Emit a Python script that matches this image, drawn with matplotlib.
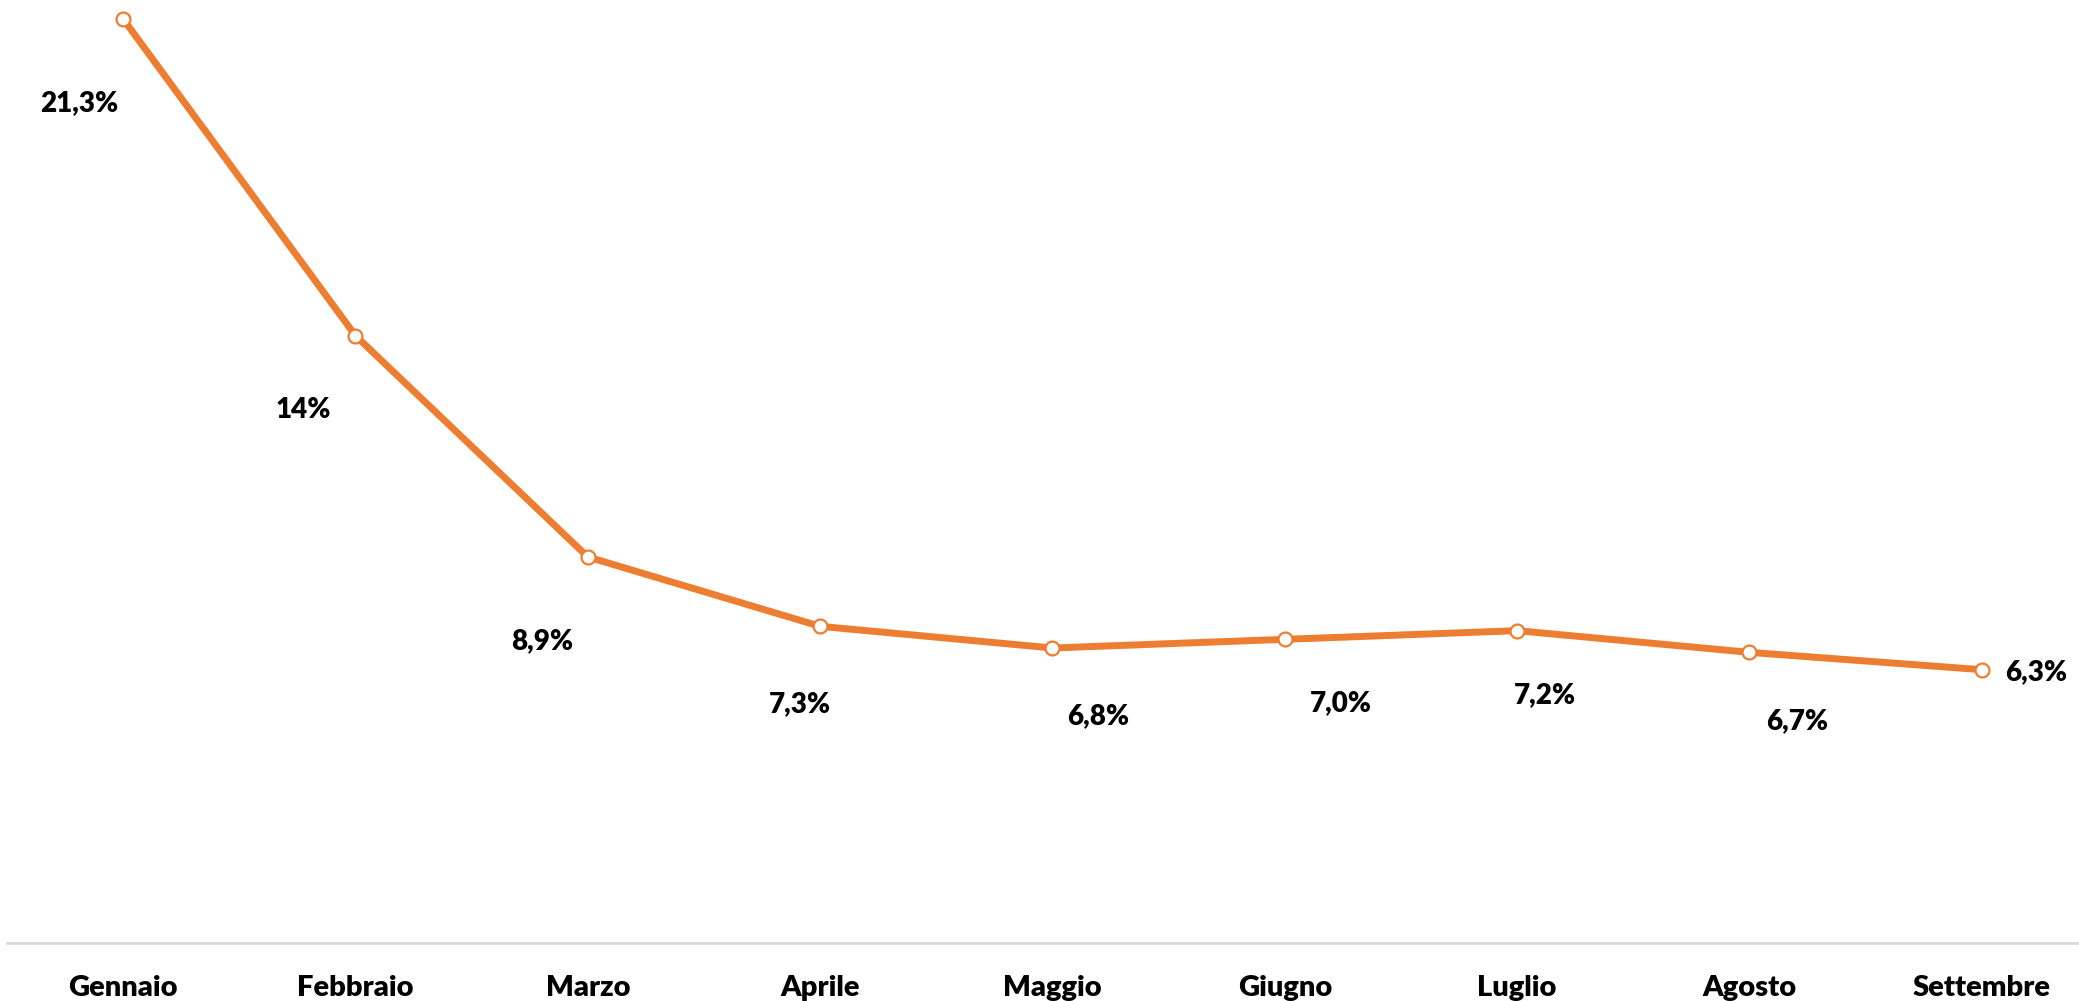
import matplotlib

matplotlib.use("Agg")
import matplotlib.pyplot as plt

MONTHS = ["Gennaio", "Febbraio", "Marzo", "Aprile", "Maggio", "Giugno",
          "Luglio", "Agosto", "Settembre"]
VALUES = [21.3, 14.0, 8.9, 7.3, 6.8, 7.0, 7.2, 6.7, 6.3]
LABELS = ["21,3%", "14%", "8,9%", "7,3%", "6,8%", "7,0%", "7,2%", "6,7%", "6,3%"]

ORANGE = "#ED7D31"
# label offsets in pixels from each point (x right, y up)
OFFSETS = [(-44, -84), (-52, -74), (-46, -84), (-20, -78), (46, -68),
           (56, -64), (28, -64), (48, -69), (54, -2)]

plt.rcParams["font.family"] = ["Lato", "DejaVu Sans"]

W, H = 2079, 1001
fig = plt.figure(figsize=(W / 100, H / 100), dpi=100)
ax = fig.add_axes([7 / W, (H - 943) / H, (2077 - 7) / W, (943 - 19) / H])

x = list(range(len(MONTHS)))
ax.plot(x, VALUES, color=ORANGE, linewidth=5, marker="o", markersize=10,
        markerfacecolor="white", markeredgecolor=ORANGE, markeredgewidth=1.6,
        clip_on=False, zorder=3)

for xi, v, lab, (dx, dy) in zip(x, VALUES, LABELS, OFFSETS):
    ax.annotate(lab, (xi, v), xytext=(dx, dy), textcoords="offset pixels",
                ha="center", va="center", fontsize=20, fontweight="heavy",
                color="black")

ax.set_xlim(-0.5, len(MONTHS) - 0.59)
ax.set_ylim(0, max(VALUES))
ax.set_xticks(x)
ax.set_xticklabels(MONTHS, fontsize=21, fontweight="heavy")
ax.tick_params(axis="x", length=0, pad=23)
ax.set_yticks([])
for s in ["top", "right", "left"]:
    ax.spines[s].set_visible(False)
ax.spines["bottom"].set_color("#D9D9D9")
ax.spines["bottom"].set_linewidth(2)

fig.savefig("out.png", dpi=100)
